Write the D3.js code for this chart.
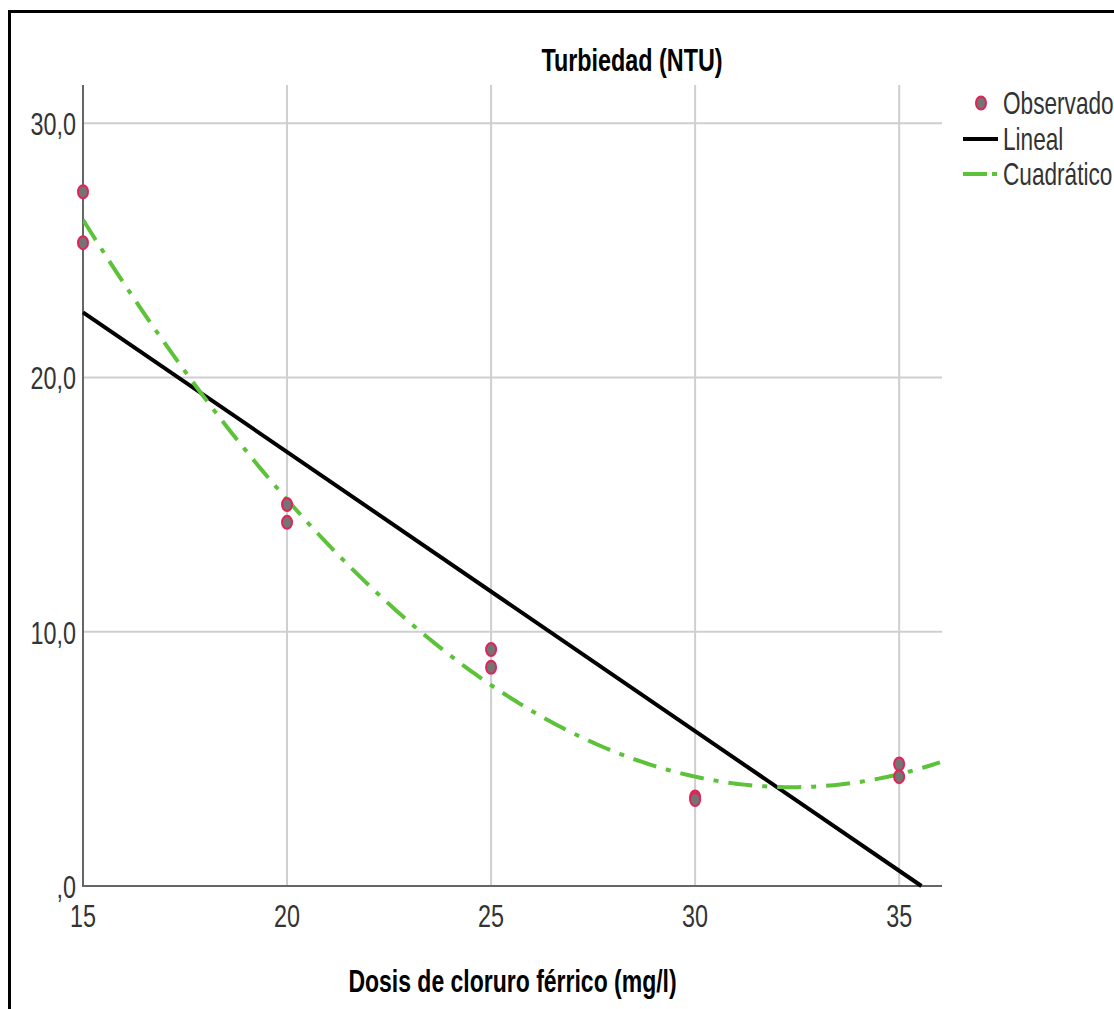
<!DOCTYPE html>
<html>
<head>
<meta charset="utf-8">
<script src="https://cdn.jsdelivr.net/npm/d3@7"></script>
<style>
  body { margin: 0; background: #fff; }
  text { font-family: "Liberation Sans", Arial, sans-serif; }
</style>
</head>
<body>
<div id="chart"></div>
<script>
// datos observados
var dosis = [15, 15, 20, 20, 25, 25, 30, 30, 35, 35];
var turbiedad = [27.3, 25.3, 15.0, 14.3, 9.3, 8.6, 3.5, 3.4, 4.8, 4.3];
// modelos ajustados (coeficientes)
var linealCoef = [39.03, -1.098];          // b0 + b1*x
var cuadCoef = [7.9, -1.09, 0.074];        // centrado en x=25
var xTicks = [15, 20, 25, 30, 35];
var yTicks = [0, 10, 20, 30];
var yTickLabels = [",0", "10,0", "20,0", "30,0"];
var legendItems = ["Observado", "Lineal", "Cuadrático"];

var W = 1114, H = 1009;
var sx = 0.73; // texto estrecho
var plot = {left: 83, right: 942, top: 85, bottom: 886};

var svg = d3.select("#chart").append("svg")
  .attr("width", W).attr("height", H);

// marco
svg.append("rect")
  .attr("x", 9.5).attr("y", 11.5)
  .attr("width", W + 20).attr("height", H + 20)
  .attr("fill", "none").attr("stroke", "#000").attr("stroke-width", 3);

var x = d3.scaleLinear().domain([15, 36.05]).range([plot.left, plot.right]);
var y = d3.scaleLinear().domain([0, 31.5]).range([plot.bottom, plot.top]);

function label(g, tx, ty, txt, size, anchor, bold){
  g.append("g")
    .attr("transform", "translate(" + tx + "," + ty + ") scale(" + sx + ",1)")
    .append("text")
    .attr("text-anchor", anchor)
    .attr("font-size", size)
    .attr("font-weight", bold ? "bold" : "normal")
    .attr("fill", bold ? "#000" : "#333")
    .text(txt);
}

// rejilla
svg.append("g").selectAll("line").data(yTicks.filter(function(d){ return d > 0; }))
  .join("line")
  .attr("x1", plot.left).attr("x2", plot.right)
  .attr("y1", function(d){ return y(d); }).attr("y2", function(d){ return y(d); })
  .attr("stroke", "#cfcfcf").attr("stroke-width", 2);
svg.append("g").selectAll("line").data(xTicks.filter(function(d){ return d > 15; }))
  .join("line")
  .attr("x1", function(d){ return x(d); }).attr("x2", function(d){ return x(d); })
  .attr("y1", plot.top).attr("y2", plot.bottom)
  .attr("stroke", "#cfcfcf").attr("stroke-width", 2);

// ejes
svg.append("line").attr("x1", plot.left).attr("x2", plot.left)
  .attr("y1", plot.top).attr("y2", plot.bottom + 1)
  .attr("stroke", "#666").attr("stroke-width", 2);
svg.append("line").attr("x1", plot.left).attr("x2", plot.right)
  .attr("y1", plot.bottom).attr("y2", plot.bottom)
  .attr("stroke", "#666").attr("stroke-width", 2);

// etiquetas de ticks
yTicks.forEach(function(t, i){
  label(svg, plot.left - 7, y(t) + 12, yTickLabels[i], 32, "end", false);
});
xTicks.forEach(function(t){
  label(svg, x(t), plot.bottom + 41, String(t), 32, "middle", false);
});

// clip del area
svg.append("clipPath").attr("id", "clip").append("rect")
  .attr("x", plot.left).attr("y", plot.top)
  .attr("width", plot.right - plot.left).attr("height", plot.bottom - plot.top);

// linea lineal
var xZero = -linealCoef[0] / linealCoef[1];
var linPts = [15, Math.min(xZero, 36.05)].map(function(v){ return [v, linealCoef[0] + linealCoef[1] * v]; });
svg.append("path")
  .attr("d", d3.line().x(function(d){ return x(d[0]); }).y(function(d){ return y(d[1]); })(linPts))
  .attr("fill", "none").attr("stroke", "#000").attr("stroke-width", 4);

// curva cuadratica
var cuadPts = d3.range(15, 36.06, 0.1).map(function(v){
  var u = v - 25;
  return [v, cuadCoef[0] + cuadCoef[1] * u + cuadCoef[2] * u * u];
});
svg.append("path")
  .attr("clip-path", "url(#clip)")
  .attr("d", d3.line().x(function(d){ return x(d[0]); }).y(function(d){ return y(d[1]); })(cuadPts))
  .attr("fill", "none").attr("stroke", "#5cc23a").attr("stroke-width", 4)
  .attr("stroke-dasharray", "24,10,5,10");

// puntos observados
svg.append("g").selectAll("ellipse").data(dosis)
  .join("ellipse")
  .attr("cx", function(d){ return x(d); })
  .attr("cy", function(d, i){ return y(turbiedad[i]); })
  .attr("rx", 5).attr("ry", 6.5)
  .attr("fill", "#747474").attr("stroke", "#e0245a").attr("stroke-width", 2);

// titulos
label(svg, 632, 71, "Turbiedad (NTU)", 32, "middle", true);
label(svg, (plot.left + plot.right) / 2, 992, "Dosis de cloruro férrico (mg/l)", 31.5, "middle", true);

// leyenda
var ly = [103, 139, 174];
svg.append("ellipse").attr("cx", 981).attr("cy", ly[0])
  .attr("rx", 5).attr("ry", 6.5)
  .attr("fill", "#747474").attr("stroke", "#e0245a").attr("stroke-width", 2);
svg.append("line").attr("x1", 963).attr("x2", 998).attr("y1", ly[1]).attr("y2", ly[1])
  .attr("stroke", "#000").attr("stroke-width", 4);
svg.append("line").attr("x1", 963).attr("x2", 998).attr("y1", ly[2]).attr("y2", ly[2])
  .attr("stroke", "#5cc23a").attr("stroke-width", 4).attr("stroke-dasharray", "24,5,5,9");
legendItems.forEach(function(t, i){
  label(svg, 1003, ly[i] + 11, t, 31, "start", false);
});
</script>
</body>
</html>
